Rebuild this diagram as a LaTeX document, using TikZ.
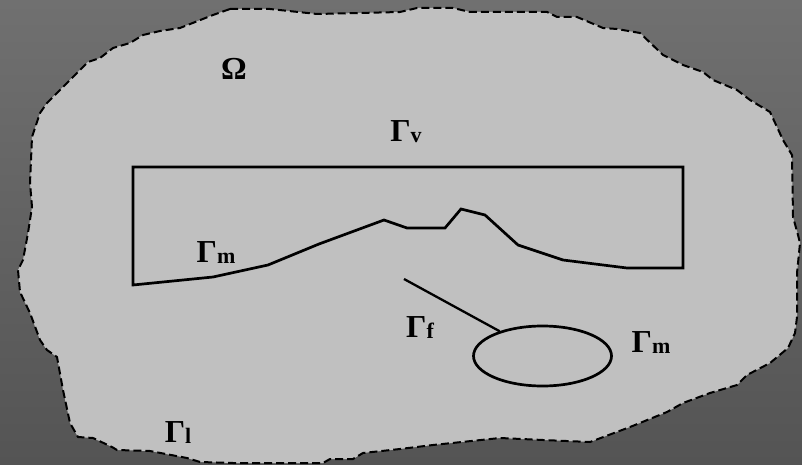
\documentclass[tikz,border=0pt]{standalone}
\usepackage{fontspec}
\setmainfont{Liberation Serif}
\usetikzlibrary{shapes.geometric}
\definecolor{bgtop}{RGB}{112,112,112}
\definecolor{bgbot}{RGB}{84,84,84}
\definecolor{domain}{RGB}{192,192,192}
\newcommand{\Gsub}[1]{\textbf{Γ}\raisebox{-1pt}{\fontsize{22}{22}\selectfont\bfseries #1}}
\begin{document}
\begin{tikzpicture}[x=1pt,y=-1pt,
  bound/.style={draw=black,line width=2pt,dash pattern=on 8pt off 4pt,fill=domain},
  edge/.style={draw=black,line width=2.7pt,line join=miter},
  lab/.style={font=\fontsize{32}{32}\selectfont\bfseries,inner sep=0pt,anchor=base}]
\useasboundingbox (0,0) rectangle (802,465);
\shade[top color=bgtop,bottom color=bgbot] (0,0) rectangle (802,465);
% outer boundary
\path[bound] (230,9) -- (270,9) -- (317,14) -- (400,12) -- (417,8) -- (453,8) -- (470,12)
 -- (547,12) -- (557,17) -- (577,17) -- (603,28) -- (617,29) -- (640,33) -- (663,55)
 -- (683,65) -- (703,72) -- (713,80) -- (737,90) -- (750,100) -- (770,112) -- (783,140)
 -- (792,155) -- (793,217) -- (798,235) -- (800,243) -- (797,273) -- (797,317) -- (795,333)
 -- (788,348) -- (770,363) -- (747,375) -- (737,385) -- (710,393) -- (683,403) -- (667,412)
 -- (630,427) -- (590,442) -- (543,440) -- (500,438) -- (433,445) -- (400,449) -- (363,453)
 -- (353,459) -- (330,459) -- (323,463) -- (233,463) -- (200,462) -- (187,458) -- (150,451)
 -- (117,450) -- (112,447) -- (93,438) -- (78,437) -- (70,423) -- (63,390) -- (57,357)
 -- (47,350) -- (40,340) -- (30,313) -- (20,292) -- (18,270) -- (23,260) -- (28,233)
 -- (32,207) -- (30,183) -- (32,137) -- (40,113) -- (47,103) -- (60,90) -- (77,73)
 -- (88,62) -- (100,58) -- (113,48) -- (130,43) -- (143,35) -- (160,31) -- (180,28)
 -- (213,15) -- cycle;
% rectangle with mountain profile
\draw[edge] (683,268) -- (683,167) -- (133,167) -- (133,285) -- (213,277) -- (268,265)
 -- (319,244) -- (384,220) -- (407,228) -- (445,228) -- (461,209) -- (485,215) -- (518,245)
 -- (563,260) -- (627,268) -- cycle;
% inclusion
\node[ellipse,draw=black,line width=2.7pt,minimum width=138pt,minimum height=60pt,inner sep=0pt] (hole) at (542.5,356) {};
\coordinate (fstart) at (404,279);
\draw[black,line width=2.3pt] (fstart) -- (hole.150);
% labels
\node[lab] (omega) at (234,80) {Ω};
\node[lab] (gv) at (406,142) {\Gsub{v}};
\node[lab] (gm1) at (216,262) {\Gsub{m}};
\node[lab] (gf) at (420,337) {\Gsub{f}};
\node[lab] (gm2) at (651,352) {\Gsub{m}};
\node[lab] (gl) at (178,442) {\Gsub{l}};
\end{tikzpicture}
\end{document}
